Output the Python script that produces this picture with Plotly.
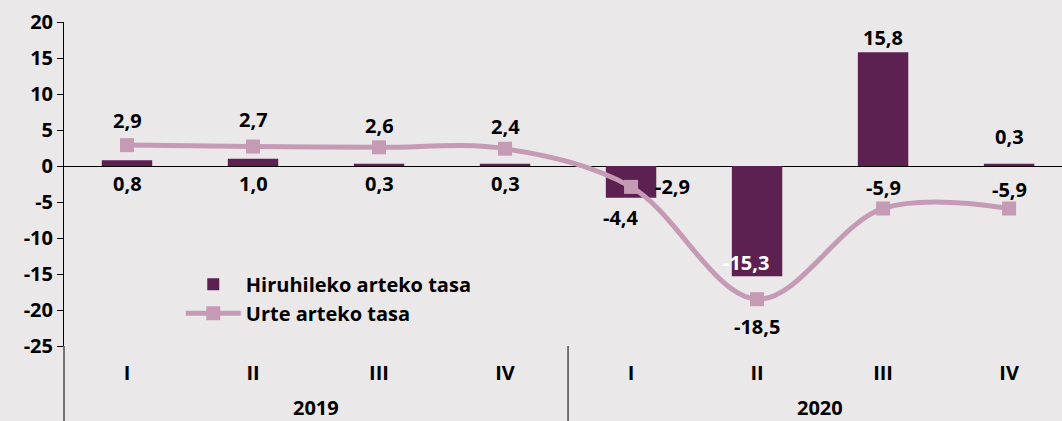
import plotly.graph_objects as go

years = ["2019", "2020"]
quarters = ["I", "II", "III", "IV", "I", "II", "III", "IV"]
quarterly_rate = [0.8, 1.0, 0.3, 0.3, -4.4, -15.3, 15.8, 0.3]
annual_rate = [2.9, 2.7, 2.6, 2.4, -2.9, -18.5, -5.9, -5.9]
ytick_vals = [20, 15, 10, 5, 0, -5, -10, -15, -20, -25]
ytick_text = ["20", "15", "10", "5", "0", "-5", "-10", "-15", "-20", "-25"]

BAR = "#5C2150"
LINE = "#C59AB4"
BG = "#EBE8E9"
FONT = "Open Sans"

def fmt(v):
    return f"{v:.1f}".replace(".", ",")

xpos = list(range(len(quarters)))
per_year = len(quarters) // len(years)

fig = go.Figure()
fig.add_trace(go.Bar(
    x=xpos, y=quarterly_rate, name="Hiruhileko arteko tasa",
    marker=dict(color=BAR, line=dict(width=0)), width=0.4,
))
fig.add_trace(go.Scatter(
    x=xpos, y=annual_rate, name="Urte arteko tasa",
    mode="lines+markers", line=dict(color=LINE, width=5, shape="spline", smoothing=1.0),
    marker=dict(symbol="square", size=14, color=LINE),
))

# label offsets (pixels) for bar labels and line labels
bar_shift = [(0, -17, "zero"), (0, -17, "zero"), (0, -17, "zero"), (0, -17, "zero"),
             (-10, -20, "val"), (-11, 14, "val"), (0, 15, "val"), (0, 27, "val")]
line_shift = [(0, 25), (0, 27), (0, 22), (0, 22), (41, 0), (0, -27), (0, 21), (0, 19)]

annotations = []
for i, v in enumerate(quarterly_rate):
    dx, dy, mode = bar_shift[i]
    yref_val = 0 if mode == "zero" else v
    annotations.append(dict(
        x=i, y=yref_val, xref="x", yref="y", text=fmt(v), showarrow=False,
        xshift=dx, yshift=dy,
        font=dict(family=FONT, size=20, color="white" if i == 5 else "black", weight="bold"),
    ))
for i, v in enumerate(annual_rate):
    dx, dy = line_shift[i]
    annotations.append(dict(
        x=i, y=v, xref="x", yref="y", text=fmt(v), showarrow=False,
        xshift=dx, yshift=dy,
        font=dict(family=FONT, size=20, color="black", weight="bold"),
    ))
# year group labels
for k, yr in enumerate(years):
    annotations.append(dict(
        x=k * per_year + (per_year - 1) / 2, y=-0.19, xref="x", yref="paper",
        yanchor="middle", text=yr, showarrow=False,
        font=dict(family=FONT, size=20, color="black", weight="bold"),
    ))

# group dividers below the plot area
shapes = [dict(type="line", xref="paper", yref="paper", x0=0, x1=0, y0=0, y1=-0.3,
               line=dict(color="black", width=1))]
for k in range(1, len(years)):
    xd = k * per_year - 0.5
    shapes.append(dict(type="line", xref="x", yref="paper", x0=xd, x1=xd, y0=0, y1=-0.3,
                       line=dict(color="black", width=1)))

fig.update_layout(
    width=1062, height=421,
    margin=dict(l=64, r=0, t=22, b=75),
    paper_bgcolor=BG, plot_bgcolor=BG,
    font=dict(family=FONT, size=20, color="black", weight="bold"),
    showlegend=True,
    legend=dict(x=0.117, y=0.251, xanchor="left", yanchor="top", bgcolor="rgba(0,0,0,0)",
                font=dict(family=FONT, size=20, color="black", weight="bold"),
                tracegroupgap=0, itemwidth=55),
    annotations=annotations,
    shapes=shapes,
    bargap=0.6,
)
fig.update_yaxes(
    range=[-25, 20], tickvals=ytick_vals, ticktext=ytick_text,
    showgrid=False, zeroline=True, zerolinecolor="black", zerolinewidth=1.2,
    showline=True, linecolor="black", linewidth=1, ticks="outside", ticklen=6,
    tickcolor="black", tickfont=dict(family=FONT, size=20, color="black", weight="bold"),
)
fig.update_xaxes(
    range=[-0.5, 7.42], tickvals=xpos, ticktext=quarters,
    showgrid=False, showline=False, ticks="", zeroline=False,
    ticklabelstandoff=13,
    tickfont=dict(family=FONT, size=20, color="black", weight="bold"),
)
fig.write_html("out.html", config={"displayModeBar": False},
               post_script="document.body.style.margin='0';document.body.style.background='#EBE8E9';")
